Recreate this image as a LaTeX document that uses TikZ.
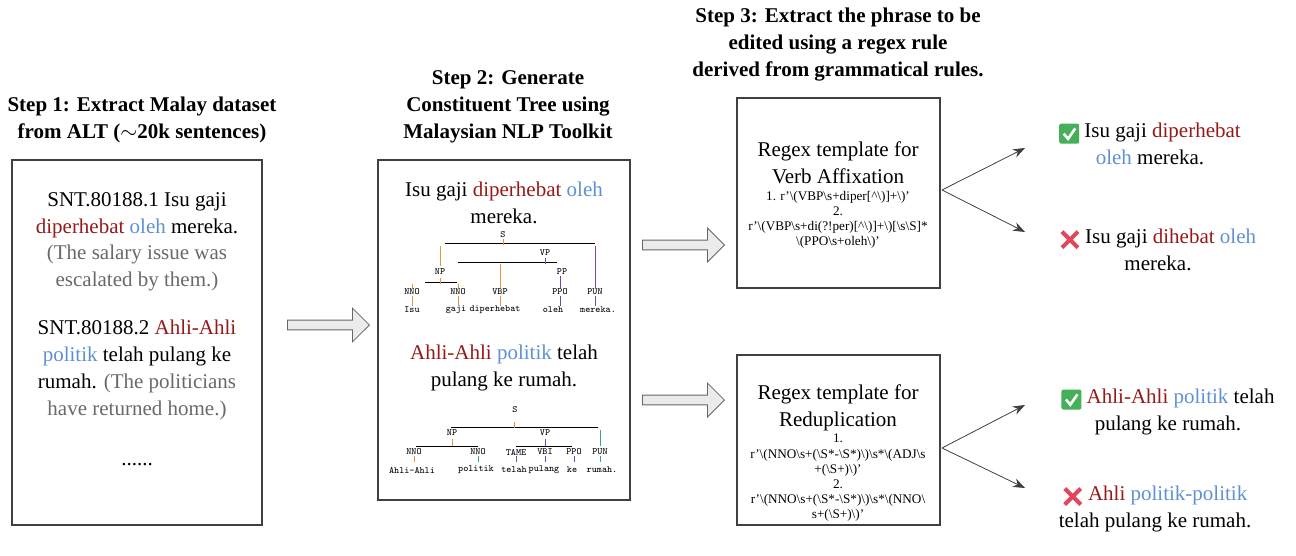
\documentclass[tikz,border=0pt]{standalone}
\usepackage{fontspec}
\setmainfont{Liberation Serif}
\usepackage{tikz}
\usetikzlibrary{positioning,shapes.arrows,arrows.meta,calc}
\definecolor{wred}{RGB}{150,25,25}
\definecolor{wblue}{RGB}{95,145,210}
\definecolor{wgray}{RGB}{105,105,105}
\definecolor{torange}{RGB}{230,150,50}
\definecolor{tpurple}{RGB}{120,70,170}
\definecolor{tteal}{RGB}{60,160,150}
\definecolor{okgreen}{RGB}{70,175,90}
\definecolor{nored}{RGB}{225,70,90}
\newcommand{\rd}[1]{\textcolor{wred}{#1}}
\newcommand{\bl}[1]{\textcolor{wblue}{#1}}
\newcommand{\gr}[1]{\textcolor{wgray}{#1}}
\newcommand{\bs}{\textbackslash}
\newcommand{\okmark}{\tikz[baseline=-1pt]{\fill[okgreen,rounded corners=1pt] (-5pt,-4pt) rectangle (5pt,6pt);\draw[white,line width=1.3pt] (-2.8pt,1pt)--(-0.6pt,-1.6pt)--(3pt,3.6pt);}}
\newcommand{\nomark}{\tikz[baseline=-1pt]{\draw[nored,line width=2pt] (-4pt,-3pt)--(4pt,5pt) (-4pt,5pt)--(4pt,-3pt);}}
\tikzset{
  box/.style={draw=black!75,thick},
  head/.style={font=\fontsize{10.5}{13.5}\selectfont\bfseries,align=center},
  txt/.style={align=center,font=\fontsize{10.5}{13.5}\selectfont},
  rx/.style={align=center,font=\fontsize{6.6}{7.6}\selectfont},
  tt/.style={font=\ttfamily\fontsize{4.8}{6}\selectfont,inner sep=0.5pt},
  blk/.style={single arrow,draw=black!60,fill=black!8,minimum height=41pt,minimum width=17pt,single arrow head extend=3pt,inner sep=1pt},
  con/.style={draw=black!75,-{Stealth[length=6pt]}}
}
\begin{document}
\begin{tikzpicture}[x=0.5pt,y=-0.5pt]
\useasboundingbox (0,0) rectangle (1296,556);
% step 1
\node[head] (h1) at (142,120) {Step 1: Extract Malay dataset\\from ALT ($\sim$20k sentences)};
\draw[box] (12,160) rectangle (262,525);
\node[txt] (s1a) at (137,215) {SNT.80188.1 Isu gaji\\\rd{diperhebat} \bl{oleh} mereka.};
\node[txt] (s1b) at (137,268) {\gr{(The salary issue was}\\\gr{escalated by them.)}};
\node[txt] (s2a) at (137,370) {SNT.80188.2 \rd{Ahli-Ahli}\\\bl{politik} telah pulang ke\\rumah. \gr{(The politicians}\\\gr{have returned home.)}};
\node[txt] (dots) at (137,465) {......};
\node[blk] (a1) at (326,325) {};
% step 2
\node[head] (h2) at (508,107) {Step 2: Generate\\Constituent Tree using\\Malaysian NLP Toolkit};
\draw[box] (378,160) rectangle (630,500);
\node[txt] (t1) at (504,203) {Isu gaji \rd{diperhebat} \bl{oleh}\\mereka.};
% tree 1
\node[tt] (S1) at (503,235) {S};
\node[tt] (VP1) at (545,253) {VP};
\node[tt] (NP1) at (440,272) {NP};
\node[tt] (PP1) at (562,272) {PP};
\foreach \n/\x/\w in {n1/412/NNO,n2/458/NNO,n3/500/VBP,n4/560/PPO,n5/595/PUN}
  \node[tt] (\n) at (\x,292) {\w};
\foreach \n/\x/\w in {w1/412/Isu,w2/456/gaji,w3/495/diperhebat,w4/553/oleh,w5/598/mereka.}
  \node[tt] (\n) at (\x,310) {\w};
\draw (445,243) -- (595,243) (458,262) -- (557,262) (425,282) -- (457,282);
\draw[torange] (503,239) -- (503,245) (440,246) -- (440,266) (440,278) -- (440,284) (412,284) -- (412,288) (458,284) -- (458,288) (500,264) -- (500,288) (412,296) -- (412,306) (458,296) -- (458,306) (500,296) -- (500,306);
\draw[tpurple] (545,258) -- (545,264) (595,246) -- (595,288) (560,276) -- (560,288) (560,296) -- (560,306) (595,296) -- (595,306);
\node[txt] (t2) at (504,368) {\rd{Ahli-Ahli} \bl{politik} telah\\pulang ke rumah.};
% tree 2
\node[tt] (S2) at (515,410) {S};
\node[tt] (NP2) at (452,433) {NP};
\node[tt] (VP2) at (545,433) {VP};
\foreach \n/\x/\w in {m1/414/NNO,m2/478/NNO,m3/516/TAME,m4/545/VBI,m5/574/PPO,m6/600/PUN}
  \node[tt] (\n) at (\x,452) {\w};
\foreach \n/\x/\w in {v1/412/Ahli-Ahli,v2/476/politik,v3/514/telah,v4/544/pulang,v5/572/ke,v6/602/rumah.}
  \node[tt] (\n) at (\x,470) {\w};
\draw (451,427) -- (598,427) (416,446) -- (478,446) (516,446) -- (572,446);
\draw[torange] (514,422) -- (514,428) (452,439) -- (452,446) (414,456) -- (414,462);
\draw[tpurple] (545,439) -- (545,446) (516,456) -- (516,462) (545,456) -- (545,462) (574,456) -- (574,462);
\draw[tteal] (600,430) -- (600,446) (600,456) -- (600,462) (478,456) -- (478,462);
\node[blk] (a2) at (681,245) {};
\node[blk] (a3) at (681,400) {};
% step 3
\node[head] (h3) at (838,45) {Step 3: Extract the phrase to be\\edited using a regex rule\\derived from grammatical rules.};
\draw[box] (737,98) rectangle (940,288);
\node[txt] (r1) at (838,163) {Regex template for\\Verb Affixation};
\node[rx] (r1x) at (838,220) {1. r'\bs(VBP\bs s+diper[\^{}\bs)]+\bs)'\\2.\\r'\bs(VBP\bs s+di(?!per)[\^{}\bs)]+\bs)[\bs s\bs S]*\\\bs(PPO\bs s+oleh\bs)'};
\draw[box] (737,355) rectangle (940,525);
\node[txt] (r2) at (838,408) {Regex template for\\Reduplication};
\node[rx] (r2x) at (838,478) {1.\\r'\bs(NNO\bs s+(\bs S*-\bs S*)\bs)\bs s*\bs(ADJ\bs s\\+(\bs S+)\bs)'\\2.\\r'\bs(NNO\bs s+(\bs S*-\bs S*)\bs)\bs s*\bs(NNO\bs\\s+(\bs S+)\bs)'};
\coordinate (o1) at (942,190);
\coordinate (o2) at (942,448);
\coordinate (e1) at (1025,148);
\coordinate (e2) at (1025,232);
\coordinate (e3) at (1025,405);
\coordinate (e4) at (1025,488);
\draw[con] (o1) -- (e1);
\draw[con] (o1) -- (e2);
\draw[con] (o2) -- (e3);
\draw[con] (o2) -- (e4);
% outputs
\node[txt] (g1) at (1150,144) {\okmark\ Isu gaji \rd{diperhebat}\\\bl{oleh} mereka.};
\node[txt] (b1) at (1158,250) {\nomark\ Isu gaji \rd{dihebat} \bl{oleh}\\mereka.};
\node[txt] (g2) at (1168,412) {\okmark\ \rd{Ahli-Ahli} \bl{politik} telah\\pulang ke rumah.};
\node[txt] (b2) at (1155,509) {\nomark\ \rd{Ahli} \bl{politik-politik}\\telah pulang ke rumah.};
\end{tikzpicture}
\end{document}
